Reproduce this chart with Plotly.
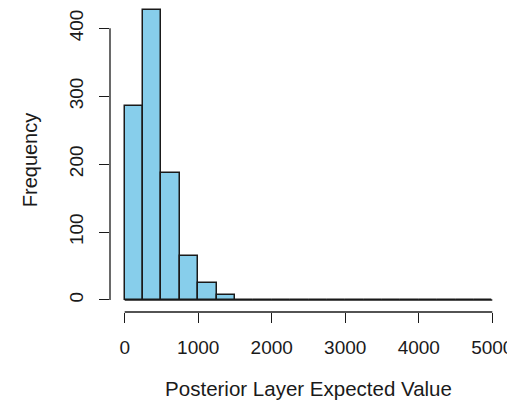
import plotly.graph_objects as go

# Histogram data (bin width 250, from 0 to 5000)
bin_width = 250
bin_edges = list(range(0, 5001, 250))
counts = [286, 427, 187, 65, 25, 8, 0, 0, 0, 0, 0, 0, 0, 0, 0, 0, 0, 0, 0, 0]
x_ticks = [0, 1000, 2000, 3000, 4000, 5000]
y_ticks = [0, 100, 200, 300, 400]
x_title = "Posterior Layer Expected Value"
y_title = "Frequency"

centers = [(bin_edges[i] + bin_edges[i + 1]) / 2 for i in range(len(counts))]

FONT = "Liberation Sans, Arial, sans-serif"
INK = "#1a1a1a"

fig = go.Figure()
# baseline of all bins (R draws zero-height bins as a flat line)
fig.add_trace(go.Scatter(
    x=[bin_edges[0], bin_edges[-1]], y=[0, 0], mode="lines",
    line=dict(color=INK, width=1.5), hoverinfo="skip", showlegend=False))
fig.add_trace(go.Bar(
    x=centers, y=counts, width=bin_width,
    marker=dict(color="#87CEEB", line=dict(color=INK, width=1.5)),
    showlegend=False))

# the page body has an 8px margin; the figure is offset accordingly
fig.update_layout(
    width=507, height=392,
    margin=dict(l=102, r=8, t=0, b=88),
    paper_bgcolor="white", plot_bgcolor="white",
    font=dict(family=FONT, size=19, color=INK),
    bargap=0,
    xaxis=dict(range=[-200, 5200], tickvals=x_ticks, ticktext=[str(v) for v in x_ticks],
               ticks="outside", ticklen=10, tickwidth=1.3, tickcolor=INK,
               showline=False, showgrid=False, zeroline=False, automargin=False,
               ticklabelstandoff=8, ticklabeloverflow="allow",
               title=dict(text=x_title, standoff=42, font=dict(size=20.5))),
    yaxis=dict(range=[-17.7, 430], tickvals=y_ticks, ticktext=[str(v) for v in y_ticks],
               ticks="outside", ticklen=10, tickwidth=1.3, tickcolor=INK,
               tickangle=-90,
               showline=False, showgrid=False, zeroline=False, automargin=False,
               ticklabelstandoff=8, ticklabeloverflow="allow",
               title=dict(text=y_title, standoff=23, font=dict(size=20))),
    shapes=[
        dict(type="line", xref="x", yref="paper", x0=x_ticks[0], x1=x_ticks[-1], y0=0, y1=0,
             line=dict(color=INK, width=1.3)),
        dict(type="line", xref="paper", yref="y", x0=0, x1=0, y0=y_ticks[0], y1=y_ticks[-1],
             line=dict(color=INK, width=1.3)),
    ],
)

fig.write_html("out.html")
